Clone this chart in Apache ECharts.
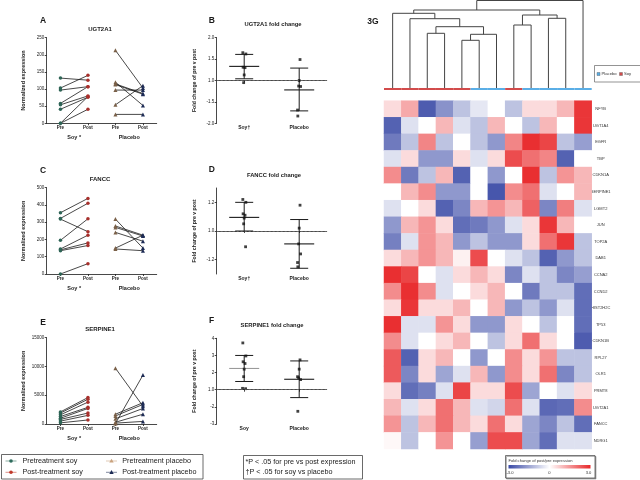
<!DOCTYPE html>
<html><head><meta charset="utf-8">
<script src="https://cdn.jsdelivr.net/npm/echarts@6/dist/echarts.min.js"></script>
<style>html,body{margin:0;padding:0;background:#fff}#c{width:640px;height:480px}</style>
</head><body><div id="c"></div><script>
// ---------------- DATA ----------------
const lineCats = ['Pre', 'Post', 'Pre', 'Post'];
const lineGroups = ['Soy *', 'Placebo'];

const ugtSoyPre  = [132, 103, 97, 58, 54, 41, 0, 0];
const ugtSoyPost = [126, 140, 107, 107, 80, 76, 78, 41];
const ugtPlaPre  = [213, 120, 115, 113, 97, 54, 26];
const ugtPlaPost = [103, 52, 87, 85, 97, 110, 26];

const fanccSoyPre  = [355, 322, 318, 195, 145, 140, 135, 0];
const fanccSoyPost = [438, 410, 245, 320, 225, 180, 165, 60];
const fanccPlaPre  = [318, 278, 270, 241, 150, 145];
const fanccPlaPost = [150, 225, 220, 190, 225, 135];

const serpSoyPre  = [2100, 1900, 1600, 1300, 1000, 800, 500, 200];
const serpSoyPost = [4600, 4300, 3800, 2900, 2700, 1900, 1500, 700];
const serpPlaPre  = [9700, 1700, 1400, 900, 300, 150, 100];
const serpPlaPost = [3100, 3700, 3400, 2700, 1700, 450, 8500];

const foldCatsBD = ['Soy\u2020', 'Placebo'];
const foldCatsF = ['Soy', 'Placebo'];

const ugtFoldSoy = [1.65, 1.62, 1.31, 1.30, 1.13, -1.05];
const ugtFoldPla = [1.49, 1.0, -1.13, -1.14, -1.69, -1.83];
const ugtFoldStats = [[1.33, 1.61, 1.04], [-1.22, 1.29, -1.71]]; // mean, upper, lower
const ugtFoldTicks = [-2.0, -1.5, 1.0, 1.5, 2.0];
const ugtFoldTickLabels = ['-2.0', '-1.5', '1.0', '1.5', '2.0'];

const fanccFoldSoy = [1.22, 1.20, 1.12, 1.11, 1.09, 1.05, -1.11];
const fanccFoldPla = [1.18, 1.02, -1.09, -1.16, -1.22, -1.25];
const fanccFoldStats = [[1.095, 1.20, 1.0], [-1.09, 1.08, -1.26]];
const fanccFoldTicks = [-1.2, 1.0, 1.2];
const fanccFoldTickLabels = ['-1.2', '1.0', '1.2'];

const serpFoldSoy = [3.73, 2.97, 2.63, 2.53, 2.20, 1.76, 1.06, 1.08];
const serpFoldPla = [2.74, 2.20, 1.69, 1.59, 1.76, -2.26];
const serpFoldStats = [[2.24, 3.0, 1.48], [1.61, 2.68, -1.46]];
const serpFoldTicks = [-3, -2, 1, 2, 3, 4];
const serpFoldTickLabels = ['-3', '-2', '1.0', '2', '3', '4'];

const heatGenes = ['NFYB','UGT1A4','EGFR','TBP','CDKN1A','SERPINE1','LGMT2','JUN','TOP2A','DAB1',
  'CCNA2','CCND2','HIST2H2C','TP53','CDKN1B','RPL27','OLR1','PRMT8','UGT2A1','FANCC','NDRG1'];
const heatValues = [
  [0.5, 1.2, -2.7, -1.8, -1.0, -0.4, 0, -1.0, 0.5, 0.5, 1.0, 2.8],
  [-2.6, -0.5, 0, 1.0, -0.5, -1.0, 1.0, 0, -1.0, 1.0, 0, 2.8],
  [-2.2, -1.0, 1.7, -1.0, 0, -1.0, -1.7, 1.7, 2.9, 2.6, -1.0, -1.6],
  [-0.5, 0.5, -1.7, -1.7, 0.5, -0.5, 0.5, 2.5, 2.0, 1.7, -2.6, 0],
  [1.6, -2.2, -1.0, 1.0, -2.6, 0, -1.7, 0, 2.9, -1.0, 1.5, 1.0],
  [0, 1.0, 1.6, -1.7, -1.7, 0, -2.8, 1.6, 2.0, -0.5, 0, 1.0],
  [-0.5, 0, 0.5, -2.6, -2.0, 1.0, 1.5, 1.0, 2.2, -2.0, 1.8, -0.5],
  [-1.7, 1.0, 1.5, 0.5, -2.4, -2.2, -1.7, -0.5, 0.5, 2.8, 1.0, 0],
  [-2.1, -0.5, 1.5, 1.0, -1.7, -1.0, -1.7, -1.7, 0.5, 2.0, 2.8, -1.0],
  [0.5, 1.0, 1.5, 1.0, 0.2, 2.5, 0, -0.5, -1.0, -2.6, -1.7, -1.0],
  [2.9, 2.6, 0, -0.5, 0.5, 1.0, 0.5, -2.0, -0.5, -1.0, -2.0, -1.6],
  [1.6, 2.9, 1.6, -0.5, 0, 0.5, 1.0, 0, -2.2, -1.0, -1.0, -2.4],
  [0.5, 2.8, 0.5, 0.5, 1.0, 0, 1.0, -1.7, -1.0, -1.7, -0.5, -2.4],
  [2.9, -0.5, -0.5, 1.5, 0.5, -1.7, -1.7, 0.5, 0, -1.0, 0, -2.4],
  [1.6, -0.5, 0, 0.5, 1.0, 0, -1.0, 0.5, 2.0, 0.5, 0, -2.7],
  [2.3, -2.6, 0.5, 1.0, 0, -1.7, 0, 1.6, 0.5, 1.5, -1.0, -1.0],
  [2.3, -2.0, 0.5, -1.5, -0.5, 1.0, -1.7, 1.6, 0.5, 2.0, -2.0, -1.0],
  [0.5, -2.4, -2.1, -0.5, 2.6, 0.5, 0.5, 2.5, -1.5, 0, -0.5, 0.5],
  [1.0, -0.5, 0.5, 2.0, 1.0, -0.5, -0.7, 2.0, -0.5, -2.5, -2.4, 1.6],
  [1.5, -1.0, 1.0, 2.0, 1.0, 0.5, 2.0, 0.5, -1.5, -2.0, -1.0, -2.4],
  [0.1, -1.0, 0, 1.5, 0, -1.6, 2.5, 2.5, -1.5, -2.4, -0.5, -0.5]
];
const columnGroups = ['Soy','Soy','Soy','Soy','Soy','Placebo','Placebo','Soy','Placebo','Placebo','Placebo','Placebo'];
// dendrogram merges: node ids 0..11 are leaves, 12+ are merges in order
const dendroLeft   = [4, 12, 2, 14, 1, 0, 7, 9, 18, 17, 21];
const dendroRight  = [5, 6, 3, 13, 15, 16, 8, 10, 19, 20, 11];
const dendroHeight = [47.7, 53.7, 54.7, 61.3, 69.3, 74.7, 63, 69.7, 73, 78, 87.5];

// ---------------- STYLE ----------------
const FONT = 'Liberation Sans, Arial, sans-serif';
const INK = '#1a1a1a';
const SOY_PRE = '#2e6456', SOY_POST = '#a8302c', PLA_PRE = '#7a6048', PLA_POST = '#1d2b55';
const LEG_SOY_PRE = '#2e6b5c', LEG_SOY_POST = '#c0392b', LEG_PLA_PRE = '#c9a27e', LEG_PLA_POST = '#1d2b55';
const BLUE = '#3a4aa6', RED = '#e8282a';
const STRIP = { Soy: '#d24b4b', Placebo: '#5aaee6' };
const JIT = [-0.025, 0.03, -0.02, 0.015, 0.0, -0.01, 0.025, -0.03];

const toAxis = f => (f >= 1 ? f - 1 : f + 1);

const grids = [], xAxes = [], yAxes = [], series = [], graphics = [];
function addGrid(g) { grids.push(g); return grids.length - 1; }
const lineAx = { show: true, lineStyle: { color: INK, width: 0.8 } };
const tickAx = { show: true, length: 2, inside: false, lineStyle: { color: INK, width: 0.8 } };

function linePanel(box, yMax, yInt, soyPre, soyPost, plaPre, plaPost) {
  const gi = addGrid(box);
  const xi = xAxes.length;
  xAxes.push({ type: 'category', gridIndex: gi, data: lineCats, boundaryGap: true,
    axisLine: lineAx, axisTick: Object.assign({ alignWithLabel: true }, tickAx),
    axisLabel: { fontSize: 4.5, fontWeight: 'bold', color: INK, fontFamily: FONT, margin: 2 },
    splitLine: { show: false } });
  xAxes.push({ type: 'category', gridIndex: gi, data: lineGroups, position: 'bottom', offset: 9.5,
    axisLine: { show: false }, axisTick: { show: false },
    axisLabel: { fontSize: 5.5, fontWeight: 'bold', color: INK, fontFamily: FONT, margin: 2 },
    splitLine: { show: false } });
  const yi = yAxes.length;
  yAxes.push({ type: 'value', gridIndex: gi, min: 0, max: yMax, interval: yInt,
    name: 'Normalized expression', nameLocation: 'middle', nameGap: 20,
    nameTextStyle: { fontSize: 5.5, fontWeight: 'bold', color: INK, fontFamily: FONT },
    axisLine: lineAx, axisTick: tickAx, splitLine: { show: false },
    axisLabel: { fontSize: 4.5, color: INK, fontFamily: FONT, margin: 2.5, formatter: v => String(v) } });
  const mk = (xa, xb, a, b, sym, ca, cb) => a.forEach((v, i) => series.push({
    type: 'line', xAxisIndex: xi, yAxisIndex: yi, symbol: sym, symbolSize: sym === 'circle' ? 3.5 : 4,
    data: [{ value: [xa, v], itemStyle: { color: ca } }, { value: [xb, b[i]], itemStyle: { color: cb } }],
    lineStyle: { color: INK, width: 0.8 }, silent: true, animation: false, z: 3 }));
  mk(0, 1, soyPre, soyPost, 'circle', SOY_PRE, SOY_POST);
  mk(2, 3, plaPre, plaPost, 'triangle', PLA_PRE, PLA_POST);
}

function foldPanel(box, cats, ticks, tickLabels, yMin, yMax, soy, pla, stats, meanColors) {
  const gi = addGrid(box);
  const xi = xAxes.length;
  xAxes.push({ type: 'value', gridIndex: gi, min: 0, max: 2,
    axisLine: lineAx, axisTick: Object.assign({ customValues: [0.5, 1.5] }, tickAx),
    axisLabel: { customValues: [0.5, 1.5], formatter: v => cats[Math.floor(v)],
      fontSize: 5, fontWeight: 'bold', color: INK, fontFamily: FONT, margin: 2 },
    splitLine: { show: false } });
  const yi = yAxes.length;
  const tpos = ticks.map(toAxis);
  yAxes.push({ type: 'value', gridIndex: gi, min: yMin, max: yMax,
    name: 'Fold change of pre v post', nameLocation: 'middle', nameGap: 20,
    nameTextStyle: { fontSize: 5.2, fontWeight: 'bold', color: INK, fontFamily: FONT },
    axisLine: lineAx, axisTick: Object.assign({ customValues: tpos }, tickAx), splitLine: { show: false },
    axisLabel: { customValues: tpos, fontSize: 4.5, color: INK, fontFamily: FONT, margin: 2.5,
      formatter: v => { const k = tpos.findIndex(t => Math.abs(t - v) < 1e-6); return k >= 0 ? tickLabels[k] : ''; } } });
  series.push({ type: 'scatter', xAxisIndex: xi, yAxisIndex: yi, symbol: 'rect', symbolSize: 2.8,
    itemStyle: { color: '#111' }, silent: true, animation: false, z: 4,
    data: soy.map((v, i) => [0.5 + JIT[i % JIT.length], toAxis(v)]),
    markLine: { silent: true, symbol: 'none', animation: false, label: { show: false },
      lineStyle: { type: [2, 2], color: '#777', width: 0.7 }, data: [{ yAxis: 0 }] } });
  series.push({ type: 'scatter', xAxisIndex: xi, yAxisIndex: yi, symbol: 'rect', symbolSize: 2.8,
    itemStyle: { color: '#111' }, silent: true, animation: false, z: 4,
    data: pla.map((v, i) => [1.5 + JIT[(i + 3) % JIT.length], toAxis(v)]) });
  series.push({ type: 'custom', xAxisIndex: xi, yAxisIndex: yi, silent: true, animation: false, z: 3,
    data: stats.map((s, i) => [0.5 + i, toAxis(s[0]), toAxis(s[1]), toAxis(s[2])]),
    renderItem: (params, api) => {
      const x = api.value(0);
      const m = api.coord([x, api.value(1)]), u = api.coord([x, api.value(2)]), l = api.coord([x, api.value(3)]);
      const st = { stroke: INK, lineWidth: 1 };
      return { type: 'group', children: [
        { type: 'line', shape: { x1: u[0], y1: u[1], x2: l[0], y2: l[1] }, style: st },
        { type: 'line', shape: { x1: u[0] - 9, y1: u[1], x2: u[0] + 9, y2: u[1] }, style: st },
        { type: 'line', shape: { x1: l[0] - 9, y1: l[1], x2: l[0] + 9, y2: l[1] }, style: st },
        { type: 'line', shape: { x1: m[0] - 15, y1: m[1], x2: m[0] + 15, y2: m[1] },
          style: { stroke: meanColors[params.dataIndex], lineWidth: 1.1 } }
      ] };
    } });
}

linePanel({ left: 46.7, top: 37.7, width: 110, height: 85.6 }, 250, 50, ugtSoyPre, ugtSoyPost, ugtPlaPre, ugtPlaPost);
foldPanel({ left: 216.7, top: 37.7, width: 110, height: 85.6 }, foldCatsBD, ugtFoldTicks, ugtFoldTickLabels, -1, 1,
  ugtFoldSoy, ugtFoldPla, ugtFoldStats, [INK, INK]);
linePanel({ left: 46.7, top: 187.7, width: 110, height: 86.3 }, 500, 100, fanccSoyPre, fanccSoyPost, fanccPlaPre, fanccPlaPost);
foldPanel({ left: 216.7, top: 188, width: 110, height: 86 }, foldCatsBD, fanccFoldTicks, fanccFoldTickLabels, -0.3, 0.3,
  fanccFoldSoy, fanccFoldPla, fanccFoldStats, [INK, INK]);
linePanel({ left: 46.7, top: 337.7, width: 110, height: 86.3 }, 15000, 5000, serpSoyPre, serpSoyPost, serpPlaPre, serpPlaPost);
foldPanel({ left: 216.7, top: 338.3, width: 110, height: 85.7 }, foldCatsF, serpFoldTicks, serpFoldTickLabels, -2, 3,
  serpFoldSoy, serpFoldPla, serpFoldStats, ['#9a9a9a', INK]);

// ---- heatmap ----
const hg = addGrid({ left: 384, top: 100.7, width: 207.7, height: 348.3 });
const hx = xAxes.length;
xAxes.push({ type: 'category', gridIndex: hg, data: columnGroups.map((g, i) => String(i + 1)), show: false });
const hy = yAxes.length;
yAxes.push({ type: 'category', gridIndex: hg, data: heatGenes, inverse: true, position: 'right',
  axisLine: { show: false }, axisTick: { show: false }, splitLine: { show: false },
  axisLabel: { fontSize: 4, color: '#333', fontFamily: FONT, margin: 9, align: 'center' } });
const heatData = [];
heatValues.forEach((row, r) => row.forEach((v, c) => heatData.push([c, r, v])));
const heatSeriesIndex = series.length;
series.push({ type: 'heatmap', xAxisIndex: hx, yAxisIndex: hy, data: heatData, silent: true, animation: false,
  itemStyle: { borderWidth: 0 } });

// ---- dendrogram ----
const dg = addGrid({ left: 384, top: 0, width: 207.7, height: 90 });
const dx = xAxes.length;
xAxes.push({ type: 'value', gridIndex: dg, min: 0, max: 12, show: false });
const dy = yAxes.length;
yAxes.push({ type: 'value', gridIndex: dg, min: -2, max: 88, show: false });
const nLeaf = columnGroups.length;
const nodeX = [], nodeH = [];
for (let i = 0; i < nLeaf; i++) { nodeX.push(i + 0.5); nodeH.push(0); }
dendroLeft.forEach((a, k) => { nodeX.push((nodeX[a] + nodeX[dendroRight[k]]) / 2); nodeH.push(dendroHeight[k]); });
series.push({ type: 'custom', xAxisIndex: dx, yAxisIndex: dy, silent: true, animation: false, clip: false,
  data: dendroLeft.map((a, k) => [nodeX[nLeaf + k], nodeH[nLeaf + k]]),
  renderItem: (params, api) => {
    const k = params.dataIndex, a = dendroLeft[k], b = dendroRight[k], h = dendroHeight[k];
    const p = [api.coord([nodeX[a], nodeH[a]]), api.coord([nodeX[a], h]), api.coord([nodeX[b], h]), api.coord([nodeX[b], nodeH[b]])];
    return { type: 'polyline', shape: { points: p }, style: { stroke: '#444', lineWidth: 1, fill: null } };
  } });
series.push({ type: 'custom', xAxisIndex: dx, yAxisIndex: dy, silent: true, animation: false, clip: false,
  data: columnGroups.map((g, i) => [i + 0.5, 0]),
  renderItem: (params, api) => {
    const i = params.dataIndex;
    const p0 = api.coord([i, 0]), p1 = api.coord([i + 1, -2]);
    return { type: 'rect', shape: { x: p0[0], y: p0[1], width: p1[0] - p0[0], height: p1[1] - p0[1] },
      style: { fill: STRIP[columnGroups[i]] } };
  } });

// ---------------- GRAPHICS (labels, legends) ----------------
const txt = (x, y, text, size, weight, align, color) => graphics.push({ type: 'text', x, y, silent: true,
  style: { text, fontSize: size, fontWeight: weight || 'normal', fontFamily: FONT, fill: color || INK,
    align: align || 'left', verticalAlign: 'middle' } });
txt(43, 21, 'A', 8.5, 'bold', 'center');
txt(211.7, 21, 'B', 8.5, 'bold', 'center');
txt(43, 170.7, 'C', 8.5, 'bold', 'center');
txt(211.7, 170, 'D', 8.5, 'bold', 'center');
txt(43, 322.7, 'E', 8.5, 'bold', 'center');
txt(211.7, 320.7, 'F', 8.5, 'bold', 'center');
txt(373, 22, '3G', 8.5, 'bold', 'center');
txt(100, 29, 'UGT2A1', 6, 'bold', 'center');
txt(273, 24, 'UGT2A1 fold change', 5.8, 'bold', 'center');
txt(100, 179, 'FANCC', 6, 'bold', 'center');
txt(274, 175, 'FANCC fold change', 5.8, 'bold', 'center');
txt(100, 329, 'SERPINE1', 6, 'bold', 'center');
txt(272, 325, 'SERPINE1 fold change', 5.8, 'bold', 'center');

// main legend
graphics.push({ type: 'rect', silent: true, shape: { x: 1.5, y: 454.5, width: 201.5, height: 24.5 },
  style: { fill: '#fff', stroke: '#444', lineWidth: 0.8 } });
const legMark = (x, y, shape, color) => {
  graphics.push({ type: 'line', silent: true, shape: { x1: x - 5.5, y1: y, x2: x + 5.5, y2: y }, style: { stroke: color, lineWidth: 0.8, opacity: 0.7 } });
  if (shape === 'circle') graphics.push({ type: 'circle', silent: true, shape: { cx: x, cy: y, r: 1.8 }, style: { fill: color } });
  else graphics.push({ type: 'polygon', silent: true, shape: { points: [[x, y - 2.2], [x - 2.2, y + 1.6], [x + 2.2, y + 1.6]] }, style: { fill: color } });
};
legMark(11, 461, 'circle', LEG_SOY_PRE);   txt(22.5, 461, 'Pretreatment soy', 7.2);
legMark(11, 472.3, 'circle', LEG_SOY_POST); txt(22.5, 472.3, 'Post-treatment soy', 7.2);
legMark(111.5, 461, 'triangle', LEG_PLA_PRE);   txt(122.3, 461, 'Pretreatment placebo', 7.2);
legMark(111.5, 472.3, 'triangle', LEG_PLA_POST); txt(122.3, 472.3, 'Post-treatment placebo', 7.2);
// significance legend
graphics.push({ type: 'rect', silent: true, shape: { x: 243.5, y: 455.5, width: 119, height: 23.5 },
  style: { fill: '#fff', stroke: '#444', lineWidth: 0.8 } });
txt(245.5, 462, '*P < .05 for pre vs post expression', 7.2);
txt(245.5, 472.5, '\u2020P < .05 for soy vs placebo', 7.2);

// heatmap group legend
graphics.push({ type: 'rect', silent: true, shape: { x: 594.5, y: 65.5, width: 47, height: 16.5 },
  style: { fill: '#fff', stroke: '#666', lineWidth: 0.7 } });
graphics.push({ type: 'rect', silent: true, shape: { x: 597, y: 72.5, width: 3, height: 3 }, style: { fill: STRIP.Placebo, stroke: '#555', lineWidth: 0.4 } });
txt(601.5, 74, 'Placebo', 4.2, 'normal', 'left', '#333');
graphics.push({ type: 'rect', silent: true, shape: { x: 619.5, y: 72.5, width: 3, height: 3 }, style: { fill: STRIP.Soy, stroke: '#555', lineWidth: 0.4 } });
txt(624, 74, 'Soy', 4.2, 'normal', 'left', '#333');

// colour scale legend
graphics.push({ type: 'rect', silent: true, shape: { x: 505.5, y: 455.5, width: 89.5, height: 22.5 },
  style: { fill: '#fff', stroke: '#555', lineWidth: 0.8, shadowColor: 'rgba(0,0,0,0.35)', shadowOffsetX: 1, shadowOffsetY: 1 } });
txt(508.5, 460.5, 'Fold change of post/pre expression', 4.1, 'normal', 'left', '#333');
graphics.push({ type: 'rect', silent: true, shape: { x: 508.5, y: 465, width: 82, height: 3.5 },
  style: { fill: { type: 'linear', x: 0, y: 0, x2: 1, y2: 0, colorStops: [
    { offset: 0, color: BLUE }, { offset: 0.5, color: '#ffffff' }, { offset: 1, color: RED }] } } });
txt(510, 472.5, '-3.0', 4.1, 'normal', 'center', '#333');
txt(549.5, 472.5, '0', 4.1, 'normal', 'center', '#333');
txt(588.5, 472.5, '3.0', 4.1, 'normal', 'center', '#333');

const chart = echarts.init(document.getElementById('c'), null, { renderer: 'canvas' });
chart.setOption({
  animation: false,
  backgroundColor: '#ffffff',
  textStyle: { fontFamily: FONT },
  grid: grids,
  xAxis: xAxes,
  yAxis: yAxes,
  visualMap: [{ show: false, type: 'continuous', min: -3, max: 3, seriesIndex: heatSeriesIndex,
    inRange: { color: [BLUE, '#ffffff', RED] } }],
  series: series,
  graphic: graphics
});
</script></body></html>
